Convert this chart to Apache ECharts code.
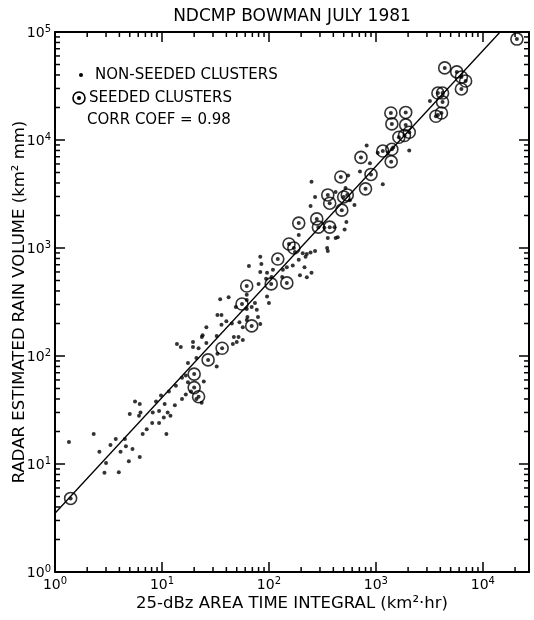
<!DOCTYPE html>
<html>
<head>
<meta charset="utf-8">
<script src="https://cdn.jsdelivr.net/npm/echarts@6/dist/echarts.min.js"></script>
<style>
html,body{margin:0;padding:0;background:#fff;}
#chart_1{width:534px;height:620px;}
</style>
</head>
<body>
<div id="chart_1"></div>
<script>
// non-seeded clusters: [area time integral, rain volume]
var nonSeeded = [
    [1.35,16],[2.3,19],[2.6,13],[2.9,8.3],[3.0,10.2],[3.3,15],[3.7,17],[3.95,8.4],[4.1,13],[4.5,17],
    [4.6,14.6],[4.9,10.6],[5.3,13.8],[5.6,38],[6.2,11.6],[6.2,36],[6.3,30],[6.1,28],[5.0,29],[6.6,19],
    [7.2,21],[8.1,24],[8.2,30],[8.8,38],[9.4,24],[9.4,31],[9.8,43],[10.4,27],[11,19],[10.6,36],
    [11.3,30],[12,28],[11.6,47],[13.2,35],[13.5,53],[15.4,40],[16.7,44],[17.5,57],[18.7,47],[21,40],
    [23.5,37],[24.6,58],[15.4,63],[16.7,66],[17.5,86],[21,96],[32.5,80],
    [13.8,129],[15,121],[19.5,135],[19.5,121],[22,118],[26,132],[23.6,150],[24,156],[26,185],[32.5,153],
    [33,105],[35,335],[42,350],[33,240],[36,240],[49,285],[62,272],[69,285],[77,268],[63,230],
    [62,215],[79,230],[40,210],[36,195],[45,200],[53,205],[57,185],[83,198],[47,150],[52,150],
    [50,135],[46,129],[57,141],[100,310],[62,370],[74,310],[62,330],[96,355],[80,465],[83,830],
    [85,710],[65,680],[96,590],[83,600],[94,520],[109,630],[106,540],[195,560],[226,535],[207,895],
    [226,880],[245,910],[270,940],[220,830],[190,1320],[190,780],[250,590],[147,665],[133,540],[135,630],
    [167,690],[215,665],[175,920],
    [820,8900],[880,6100],[1040,7600],[1300,7700],[1450,8500],[2050,8000],[1160,3900],[710,5100],[550,4700],[250,4100],
    [270,2970],[245,2450],[420,3300],[520,3600],[570,2770],[630,2500],[530,1740],[510,1480],[440,1260],[420,1240],
    [410,1560],[355,1240],[350,1000],[355,940],[330,1540],[3200,23000],[3800,17000]
];
// seeded clusters
var seeded = [
    [1.4,4.8],[20,51],[22,42],[20,68],[27,92],[36.5,118],[69,190],[56,303],[62,445],[105,465],
    [147,475],[121,790],[154,1090],[171,1000],[190,1700],[280,1860],[290,1560],[370,1560],[370,2600],[480,2240],
    [355,3100],[500,2970],[540,3100],[470,4550],[800,3530],[900,4800],[725,6900],[1160,7900],[1410,8200],[1390,6300],
    [1410,14100],[1900,13800],[2050,11800],[1640,10600],[1850,11000],[1380,17800],[1900,18000],[3640,16600],[4100,17800],[3800,27200],
    [4200,27200],[4200,22500],[4400,46500],[5700,42700],[6300,38300],[6900,35200],[6300,29700],[20800,86000]
];
// regression line end points
var fitLine = [[1,3.5],[14500,100000]];
var xMin = 1, xMax = 27000;
var yMin = 1, yMax = 100000;
var decades = [1,10,100,1000,10000];
var minorSteps = [2,3,4,5,6,7,8,9];

// minor ticks (2..9 per decade) on all four sides
var minorTicks = [];
decades.forEach(function(d){
    minorSteps.forEach(function(s){
        var v = d*s;
        if(v < xMax) minorTicks.push([v, 1, 0]);
        if(v < yMax) minorTicks.push([1, v, 1]);
    });
});

var font = 'DejaVu Sans';
function powLabel(v){
    var l = Math.log(v)/Math.LN10;
    var e = Math.round(l);
    if(Math.abs(l-e) > 1e-6) return '';
    return '{b|10}{s|' + e + '}';
}
var labelRich = {
    b:{fontFamily:font, fontSize:14, color:'#000', lineHeight:16, verticalAlign:'bottom'},
    s:{fontFamily:font, fontSize:10, color:'#000', lineHeight:10, verticalAlign:'top'}
};
var axisLine = {show:true, onZero:false, lineStyle:{color:'#000', width:2}};
var axisTick = {show:true, inside:true, length:10, lineStyle:{color:'#000', width:1.5}};

var option1 = {
    animation:false,
    grid:{left:55, right:5, top:32, bottom:48, outerBoundsMode:'none'},
    graphic:[
        {type:'text', x:292, y:17, style:{text:'NDCMP BOWMAN JULY 1981', fontFamily:font, fontSize:17, fill:'#000', align:'center', verticalAlign:'middle'}},
        {type:'circle', x:81, y:75, shape:{r:2}, style:{fill:'#000'}},
        {type:'text', x:95, y:75, style:{text:'NON-SEEDED CLUSTERS', fontFamily:font, fontSize:15, fill:'#000', verticalAlign:'middle'}},
        {type:'circle', x:79, y:98, shape:{r:6}, style:{fill:'none', stroke:'#000', lineWidth:1.6}},
        {type:'circle', x:79, y:98, shape:{r:2}, style:{fill:'#000'}},
        {type:'text', x:89, y:98, style:{text:'SEEDED CLUSTERS', fontFamily:font, fontSize:15, fill:'#000', verticalAlign:'middle'}},
        {type:'text', x:87, y:120, style:{text:'CORR COEF = 0.98', fontFamily:font, fontSize:15, fill:'#000', verticalAlign:'middle'}}
    ],
    xAxis:[
        {
            type:'log', logBase:10, min:xMin, max:xMax, position:'bottom',
            name:'25-dBz AREA TIME INTEGRAL (km²·hr)', nameLocation:'middle', nameGap:23, nameMoveOverlap:false,
            nameTextStyle:{fontFamily:font, fontSize:16.5, color:'#000'},
            axisLine:axisLine, axisTick:axisTick, splitLine:{show:false},
            axisLabel:{show:true, margin:4, formatter:powLabel, rich:labelRich}
        },
        {
            type:'log', logBase:10, min:xMin, max:xMax, position:'top',
            axisLine:axisLine, axisTick:axisTick, splitLine:{show:false}, axisLabel:{show:false}
        }
    ],
    yAxis:[
        {
            type:'log', logBase:10, min:yMin, max:yMax, position:'left',
            name:'RADAR ESTIMATED RAIN VOLUME (km² mm)', nameLocation:'middle', nameGap:27, nameMoveOverlap:false,
            nameTextStyle:{fontFamily:font, fontSize:16.5, color:'#000'},
            axisLine:axisLine, axisTick:axisTick, splitLine:{show:false},
            axisLabel:{show:true, margin:4, formatter:powLabel, rich:labelRich}
        },
        {
            type:'log', logBase:10, min:yMin, max:yMax, position:'right',
            axisLine:axisLine, axisTick:axisTick, splitLine:{show:false}, axisLabel:{show:false}
        }
    ],
    series:[
        {
            type:'custom', silent:true, clip:false,
            dimensions:['x','y','kind'], encode:{x:0, y:1},
            data:minorTicks,
            renderItem:function(params, api){
                var st = {stroke:'#000', lineWidth:1.5};
                var a, b;
                if(api.value(2) === 0){
                    a = api.coord([api.value(0), yMin]);
                    b = api.coord([api.value(0), yMax]);
                    return {type:'group', children:[
                        {type:'line', shape:{x1:a[0], y1:a[1], x2:a[0], y2:a[1]-5}, style:st},
                        {type:'line', shape:{x1:b[0], y1:b[1], x2:b[0], y2:b[1]+5}, style:st}
                    ]};
                }
                a = api.coord([xMin, api.value(1)]);
                b = api.coord([xMax, api.value(1)]);
                return {type:'group', children:[
                    {type:'line', shape:{x1:a[0], y1:a[1], x2:a[0]+5, y2:a[1]}, style:st},
                    {type:'line', shape:{x1:b[0], y1:b[1], x2:b[0]-5, y2:b[1]}, style:st}
                ]};
            }
        },
        {
            name:'fit', type:'line', data:fitLine, symbol:'none', silent:true,
            lineStyle:{color:'#000', width:1.3}
        },
        {
            name:'NON-SEEDED CLUSTERS', type:'scatter', data:nonSeeded,
            symbol:'circle', symbolSize:4, silent:true,
            itemStyle:{color:'#000'}
        },
        {
            name:'SEEDED CLUSTERS', type:'scatter', data:seeded,
            symbol:'circle', symbolSize:12, silent:true,
            itemStyle:{color:'rgba(0,0,0,0)', borderColor:'#000', borderWidth:1.6}
        },
        {
            name:'SEEDED CLUSTERS dot', type:'scatter', data:seeded,
            symbol:'circle', symbolSize:4, silent:true,
            itemStyle:{color:'#000'}
        }
    ]
};
var myChart1 = echarts.init(document.getElementById('chart_1'));
myChart1.setOption(option1);
</script>
</body>
</html>
